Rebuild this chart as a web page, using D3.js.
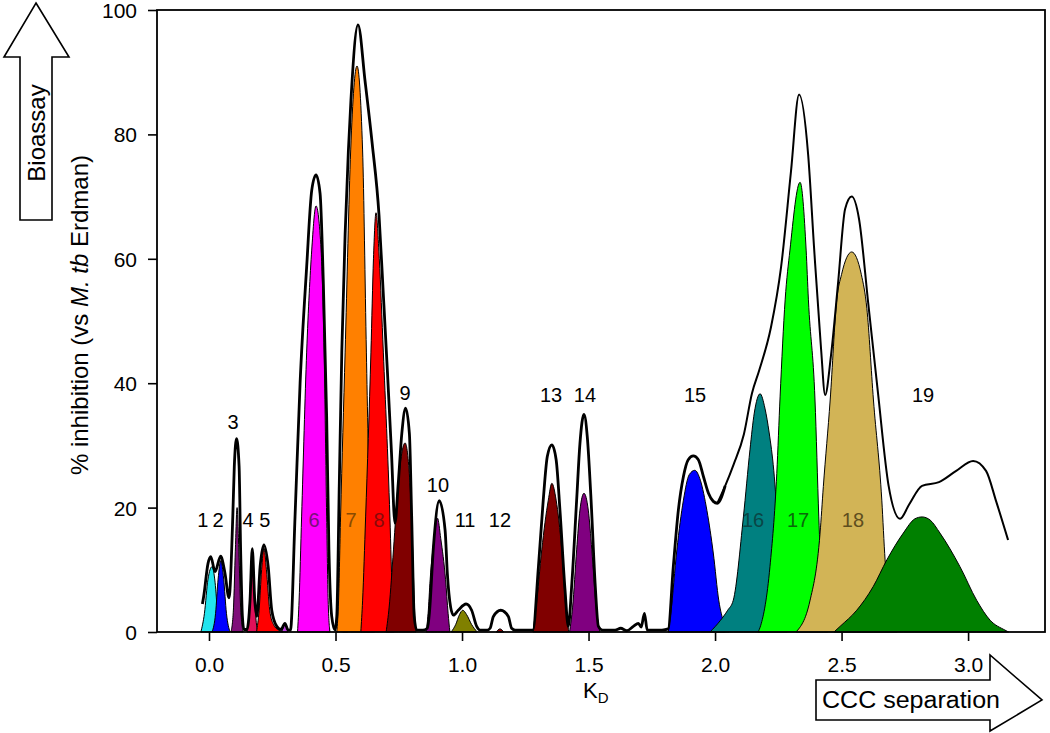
<!DOCTYPE html>
<html>
<head>
  <title>CCC fractionation bioassay</title>
  <style>
    body { margin: 0; background: #fff; }
    svg text { font-family: "Liberation Sans", Arial, sans-serif; fill: #000; }
    .peak { stroke: #000; stroke-width: 1px; stroke-linejoin: round; }
    .envelope { fill: none; stroke: #000; stroke-linejoin: round; }
    .axis path, .axis line { stroke: #000; stroke-width: 1.6px; }
    .frame { fill: none; stroke: #000; stroke-width: 1.8px; }
    .arrow { fill: #fff; stroke: #000; stroke-width: 1.6px; }
  </style>
</head>
<body>
  <svg id="chart" width="1050" height="733"></svg>

  <script src="https://d3js.org/d3.v7.min.js"></script>
  <script>
    // fraction numbers
    const fractions = ["1","2","3","4","5","6","7","8","9","10","11","12","13","14","15","16","17","18","19"];

    // peak shapes, [KD, % inhibition]
    const peak1  = [[-0.032,0],[-0.018,3],[-0.004,8.5],[0.012,10.5],[0.024,8],[0.034,3],[0.044,0]];
    const peak2  = [[0.012,0],[0.026,3],[0.036,8.5],[0.047,11.5],[0.058,8.5],[0.069,3],[0.083,0]];
    const peak3  = [[0.087,0],[0.097,4],[0.104,13],[0.111,20],[0.118,13],[0.125,4],[0.135,0]];
    const peak4  = [[0.150,0],[0.158,3],[0.165,9],[0.171,12.5],[0.177,9],[0.184,3],[0.192,0]];
    const peak5  = [[0.188,0],[0.198,3.5],[0.208,10],[0.217,13.5],[0.227,10],[0.240,3.5],[0.255,1.2],[0.275,0.3],[0.290,0]];
    const peak6  = [[0.350,0],[0.356,5],[0.366,18.5],[0.386,45],[0.406,61.4],[0.423,68.5],[0.443,61.4],[0.455,45],[0.465,18.5],[0.471,5],[0.478,0]];
    const peak7  = [[0.505,0],[0.512,5],[0.520,18.5],[0.538,45],[0.560,77.5],[0.585,91],[0.607,77.5],[0.622,45],[0.635,18.5],[0.645,5],[0.655,0]];
    const peak8  = [[0.600,0],[0.607,5],[0.619,18.5],[0.640,45],[0.650,60],[0.660,67.4],[0.673,60],[0.689,45],[0.715,18.5],[0.725,5],[0.732,0]];
    const peak9  = [[0.700,0],[0.712,4],[0.729,13.2],[0.748,24],[0.775,30.4],[0.794,24],[0.805,13.2],[0.812,4],[0.818,0]];
    const peak10 = [[0.858,0],[0.866,3],[0.874,8.4],[0.890,15],[0.903,18.3],[0.916,15],[0.935,8.4],[0.945,3],[0.952,0]];
    const peak11 = [[0.957,0],[0.975,1.2],[0.990,2.8],[1.003,3.5],[1.018,2.8],[1.038,1.2],[1.060,0]];
    const peak12 = [[1.135,0],[1.150,0.5],[1.165,0]];
    const peak13 = [[1.280,0],[1.293,4],[1.315,13.2],[1.341,21.2],[1.355,23.9],[1.372,21.2],[1.394,13.2],[1.410,4],[1.422,0]];
    const peak14 = [[1.425,0],[1.437,4],[1.453,13.2],[1.466,19.6],[1.482,22.3],[1.499,19.6],[1.513,13.2],[1.530,4],[1.545,0]];
    const peak15 = [[1.815,0],[1.825,3],[1.849,13.2],[1.875,21.2],[1.898,25.3],[1.920,26],[1.942,24.4],[1.968,19.5],[1.993,12.7],[2.015,5],[2.035,1.5],[2.055,0]];
    const peak16 = [[1.980,0],[2.020,1.8],[2.050,3.5],[2.072,5.1],[2.112,18.5],[2.138,29.3],[2.155,35.2],[2.178,38.3],[2.197,36],[2.214,32],[2.232,26],[2.250,16],[2.268,6],[2.285,0]];
    const peak17 = [[2.170,0],[2.180,1],[2.217,10.5],[2.244,25.5],[2.257,37.8],[2.277,53.4],[2.296,61.4],[2.336,72.3],[2.360,61.4],[2.369,53.4],[2.395,37.3],[2.410,18.5],[2.420,8],[2.430,2],[2.445,0]];
    const peak18 = [[2.320,0],[2.375,5],[2.415,15.9],[2.428,23.4],[2.455,37.3],[2.481,53.4],[2.500,57.5],[2.540,61.1],[2.578,57.5],[2.600,52],[2.626,37.3],[2.659,21.2],[2.672,11.6],[2.690,4],[2.720,0]];
    const peak19 = [[2.470,0],[2.494,0.9],[2.560,3.5],[2.625,7.3],[2.679,11.6],[2.744,15.9],[2.790,18.2],[2.818,18.5],[2.850,18],[2.889,15.9],[2.968,10.5],[3.034,5.1],[3.087,1.9],[3.146,0.3],[3.160,0]];

    // small unlabeled bumps along the baseline
    const minorBumps = [
      [[0.288,0],[0.300,1.3],[0.312,0]],
      [[0.462,0],[0.470,0.8],[0.478,0]],
      [[0.528,0],[0.538,1.4],[0.548,0]],
      [[2.012,0],[2.026,0.6],[2.040,0]]
    ];
    const minorColors = ["#c040e0", "#ff8000", "#ff8000", "#00ff00"];

    // black bioassay envelope
    const envelopeLeft = [[-0.026,4.5],[-0.020,6.0],[-0.004,11.0],[0.007,12.1],[0.024,9.7],[0.046,12.2],[0.063,9.5],[0.079,5.5],
      [0.094,18.5],[0.100,26.6],[0.109,31.1],[0.119,26.6],[0.125,13.2],[0.132,2.5],[0.138,0.4],[0.150,0.4],[0.162,5],[0.171,13.4],
      [0.181,5],[0.189,2.5],[0.202,10.5],[0.217,14.0],[0.234,10.5],[0.248,3.5],[0.268,0.9],[0.285,0.4],[0.300,1.4],[0.313,0.3],
      [0.322,0.3],[0.340,18.5],[0.360,40.0],[0.386,58.7],[0.406,71.0],[0.423,73.5],[0.439,70.5],[0.452,56.0],[0.465,34.6],[0.474,13.2],
      [0.485,2.5],[0.498,0.3],[0.505,2.5],[0.515,23.9],[0.525,45.3],[0.538,64.0],[0.551,77.5],[0.561,85.5],[0.589,97.6],[0.617,88.5],
      [0.645,78.5],[0.672,67.0],[0.688,55.0],[0.705,42.0],[0.721,29.0],[0.735,17.5],[0.748,23.9],[0.762,31.9],[0.777,36.0],[0.792,31.9],
      [0.801,18.5],[0.811,2.5],[0.821,0.3],[0.845,0.3],[0.863,0.6],[0.871,3.0],[0.887,13.7],[0.910,21.1],[0.933,16.4],[0.942,9.4],
      [0.955,4.0],[0.966,2.7],[0.985,3.5],[1.016,4.5],[1.038,3.5],[1.058,0.9],[1.071,0.3],[1.100,0.3],[1.111,0.6],[1.124,2.5],
      [1.153,3.5],[1.183,2.5],[1.196,0.6],[1.210,0.3],[1.280,0.3],[1.302,10.5],[1.321,21.2],[1.337,28.2],[1.355,30.1],[1.372,27.7],
      [1.387,19.6],[1.407,6.8],[1.420,0.9],[1.434,7.8],[1.453,21.2],[1.466,30.3],[1.482,35.0],[1.495,31.4],[1.510,21.2],[1.526,7.8],
      [1.539,0.9],[1.555,0.3],[1.605,0.3],[1.627,0.6],[1.651,0.2],[1.677,0.9],[1.697,1.4],[1.708,0.8],[1.721,3.0],[1.732,0.3],
      [1.790,0.3],[1.815,0.5],[1.835,10.5],[1.855,19.6],[1.875,25.0],[1.894,27.7],[1.914,28.3],[1.934,27.7],[1.954,25.0],[1.974,22.3],
      [1.993,21.0],[2.009,20.7],[2.040,23.5]];
    const envelopeRight = [[2.009,20.7],[2.040,23.5],[2.074,27.0],[2.114,31.8],[2.146,38.4],[2.174,42.0],[2.221,49.0],[2.261,58.7],
      [2.300,74.0],[2.332,86.4],[2.368,76.7],[2.391,62.0],[2.419,45.5],[2.435,38.1],[2.458,44.4],[2.486,56.0],[2.514,68.0],
      [2.540,70.0],[2.569,66.4],[2.605,53.0],[2.644,38.4],[2.686,23.5],[2.731,18.2],[2.767,20.5],[2.818,23.5],[2.885,24.1],
      [2.953,25.9],[3.020,27.5],[3.071,25.9],[3.111,21.0],[3.158,14.8]];

    // label anchors for the fraction numbers [KD, %]
    const labelAt = [[-0.024,18],[0.036,18],[0.095,33.8],[0.154,18],[0.221,18],[0.415,18],[0.561,18],[0.672,18],[0.775,38.4],
      [0.905,23.6],[1.012,18],[1.150,18],[1.352,38.1],[1.486,38.1],[1.921,38.1],[2.150,18],[2.328,18],[2.545,18],[2.822,38.1]];

    const xTicks = [0, 0.5, 1.0, 1.5, 2.0, 2.5, 3.0];
    const yTicks = [0, 20, 40, 60, 80, 100];

    const peaks = [peak1, peak2, peak3, peak4, peak5, peak6, peak7, peak8, peak9, peak10,
                   peak11, peak12, peak13, peak14, peak15, peak16, peak17, peak18, peak19];
    const peakColors = ["#22e4ee", "#0000ff", "#80107a", "#e0105a", "#ff0000", "#ff00ff", "#ff8000", "#ff0000", "#800000", "#800080",
                        "#808000", "#900000", "#800000", "#800080", "#0000ff", "#008080", "#00ff00", "#d2b456", "#008000"];
    // labels that sit on a fill are drawn in a darker tone of it
    const labelColors = ["#000","#000","#000","#000","#000","#7a107a","#8a4a00","#8a0a0a","#000","#000",
                         "#000","#000","#000","#000","#000","#0a4646","#0a6a0a","#5e4e1e","#000"];

    const svg = d3.select("#chart");
    const x = d3.scaleLinear().domain([-0.2055, 3.304]).range([157, 1045]);
    const y = d3.scaleLinear().domain([0, 100]).range([632, 10]);

    const area = d3.area()
      .x(d => x(d[0]))
      .y0(y(0))
      .y1(d => y(d[1]))
      .curve(d3.curveMonotoneX);

    const line = d3.line()
      .x(d => x(d[0]))
      .y(d => y(d[1]))
      .curve(d3.curveMonotoneX);

    // colored peaks
    svg.append("g").selectAll("path")
      .data(minorBumps)
      .enter().append("path")
      .attr("class", "peak")
      .attr("d", area)
      .attr("fill", (d, i) => minorColors[i]);

    svg.append("g").selectAll("path")
      .data(peaks)
      .enter().append("path")
      .attr("class", "peak")
      .attr("d", area)
      .attr("fill", (d, i) => peakColors[i]);

    // envelope
    svg.append("path").datum(envelopeLeft)
      .attr("class", "envelope").attr("stroke-width", 2.8).attr("d", line);
    svg.append("path").datum(envelopeRight)
      .attr("class", "envelope").attr("stroke-width", 2.0).attr("d", line);

    // fraction labels
    svg.append("g").selectAll("text")
      .data(fractions)
      .enter().append("text")
      .attr("x", (d, i) => x(labelAt[i][0]))
      .attr("y", (d, i) => y(labelAt[i][1]))
      .attr("dy", "0.36em")
      .attr("text-anchor", "middle")
      .style("font-size", "20px")
      .style("fill", (d, i) => labelColors[i])
      .text(d => d);

    // frame
    svg.append("rect").attr("class", "frame")
      .attr("x", x.range()[0]).attr("y", y.range()[1])
      .attr("width", x.range()[1] - x.range()[0])
      .attr("height", y.range()[0] - y.range()[1]);

    // axes
    const xAxis = svg.append("g").attr("class", "axis")
      .attr("transform", `translate(0,${y(0)})`)
      .call(d3.axisBottom(x).tickValues(xTicks).tickFormat(d3.format(".1f")).tickSize(9).tickSizeOuter(0));
    xAxis.select(".domain").remove();
    xAxis.selectAll("text").style("font-size", "21px").attr("dy", "1.35em");

    const yAxis = svg.append("g").attr("class", "axis")
      .attr("transform", `translate(${x.range()[0]},0)`)
      .call(d3.axisLeft(y).tickValues(yTicks).tickSize(9).tickSizeOuter(0));
    yAxis.select(".domain").remove();
    yAxis.selectAll("text").style("font-size", "21px").attr("x", -20).attr("dy", "0.36em");

    // axis titles
    const kd = svg.append("text")
      .attr("x", 583).attr("y", 698)
      .style("font-size", "22px");
    kd.append("tspan").text("K");
    kd.append("tspan").attr("dy", 5).style("font-size", "15px").text("D");

    const yt = svg.append("text")
      .attr("transform", "translate(88,315) rotate(-90)")
      .attr("text-anchor", "middle")
      .style("font-size", "24px");
    yt.append("tspan").text("% inhibition (vs ");
    yt.append("tspan").style("font-style", "italic").text("M. tb");
    yt.append("tspan").text(" Erdman)");

    // arrows
    svg.append("path").attr("class", "arrow")
      .attr("d", "M36,3 L69,57 L52,57 L52,220 L20,220 L20,57 L4,57 Z");
    svg.append("text")
      .attr("transform", "translate(45,133) rotate(-90)")
      .attr("text-anchor", "middle")
      .style("font-size", "24px")
      .text("Bioassay");

    svg.append("path").attr("class", "arrow")
      .attr("d", "M816,680 L990,680 L990,655 L1042,700 L990,731 L990,720 L816,720 Z");
    svg.append("text")
      .attr("x", 822).attr("y", 708)
      .attr("textLength", 178).attr("lengthAdjust", "spacingAndGlyphs")
      .style("font-size", "23px")
      .text("CCC separation");
  </script>
</body>
</html>
